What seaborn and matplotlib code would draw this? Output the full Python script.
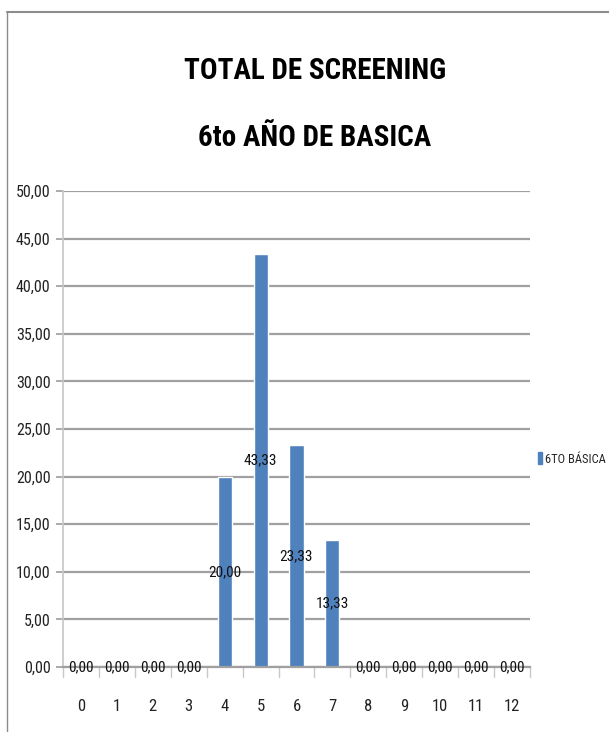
import matplotlib
matplotlib.use("Agg")
import matplotlib.pyplot as plt
import matplotlib.font_manager as fm
from matplotlib.lines import Line2D
from matplotlib.patches import Patch
import seaborn as sns
import pandas as pd

categories = [str(i) for i in range(13)]
values = [0, 0, 0, 0, 20.00, 43.33, 23.33, 13.33, 0, 0, 0, 0, 0]
series_name = "6TO BÁSICA"
title_lines = ["TOTAL DE SCREENING", "6to AÑO DE BASICA"]
yticks = [0, 5, 10, 15, 20, 25, 30, 35, 40, 45, 50]

sns.set_theme(style="white")


def find_font(bold):
    prefs = ["robotocondensed", "opensanscondensed", "notosanscondensed",
             "dejavusanscondensed", "liberationsansnarrow"]
    files = [f.fname for f in fm.fontManager.ttflist]
    for p in prefs:
        for fn in files:
            base = fn.split("/")[-1].lower()
            if not base.replace("_", "").replace("-", "").startswith(p):
                continue
            if any(k in base for k in ["italic", "light", "medium", "thin", "black", "semibold", "extrabold"]):
                continue
            if bold == ("bold" in base):
                return fm.FontProperties(fname=fn)
    return fm.FontProperties(family="DejaVu Sans", weight="bold" if bold else "normal")


fp_reg = find_font(False)
fp_bold = find_font(True)


def fprop(size, bold=False):
    p = (fp_bold if bold else fp_reg).copy()
    p.set_size(size)
    return p


df = pd.DataFrame({"cat": categories, "val": values})

fig = plt.figure(figsize=(6.09, 7.32), dpi=100)
ax = fig.add_axes([63/609, 1-667/732, (530-63)/609, (667-191)/732])
sns.barplot(data=df, x="cat", y="val", color="#4F81BD", width=0.39, ax=ax, saturation=1)

ax.set_ylim(0, 50)
ax.set_xlim(-0.5, 12.5)
ax.set_yticks(yticks)
ax.set_yticklabels([f"{v:.2f}".replace(".", ",") for v in yticks], fontproperties=fprop(11.5), color="#222222")
ax.yaxis.grid(True, color="#a0a0a0", linewidth=1.6)
ax.set_axisbelow(True)
ax.tick_params(axis="y", length=5, color="#a0a0a0", left=True, pad=4)
ax.set_xticks(range(13))
ax.set_xticklabels(categories, fontproperties=fprop(12), color="#222222")
ax.tick_params(axis="x", length=0, pad=23)
for b in [i + 0.5 for i in range(-1, 13)]:
    ax.plot([b, b], [0, -1.0], color="#c8c8c8", linewidth=1, clip_on=False)
ax.set_xlabel("")
ax.set_ylabel("")
for s in ["top", "right"]:
    ax.spines[s].set_visible(False)
ax.spines["left"].set_color("#c8c8c8")
ax.spines["bottom"].set_color("#a0a0a0")
ax.spines["bottom"].set_linewidth(1.6)

ax.bar_label(ax.containers[0], labels=[f"{v:.2f}".replace(".", ",") for v in values],
             label_type="center", fontproperties=fprop(11), color="#111111")

fig.text(315/609, 1-71/732, title_lines[0], ha="center", va="center", fontproperties=fprop(21, True), color="#000000")
fig.text(315/609, 1-138/732, title_lines[1], ha="center", va="center", fontproperties=fprop(21, True), color="#000000")

fig.legend(handles=[Patch(color="#4F81BD", label=series_name)], loc="center right",
           bbox_to_anchor=(606/609, 1-459/732), frameon=False, prop=fprop(9),
           handlelength=0.35, handleheight=1.1, handletextpad=0.25, borderpad=0, borderaxespad=0)

fig.add_artist(Line2D([7/609, 1], [1-12/732, 1-12/732], color="#8c8c8c", linewidth=1.5))
fig.add_artist(Line2D([7/609, 7/609], [0, 1-12/732], color="#8c8c8c", linewidth=1.0))

fig.savefig("out.png", dpi=100)
